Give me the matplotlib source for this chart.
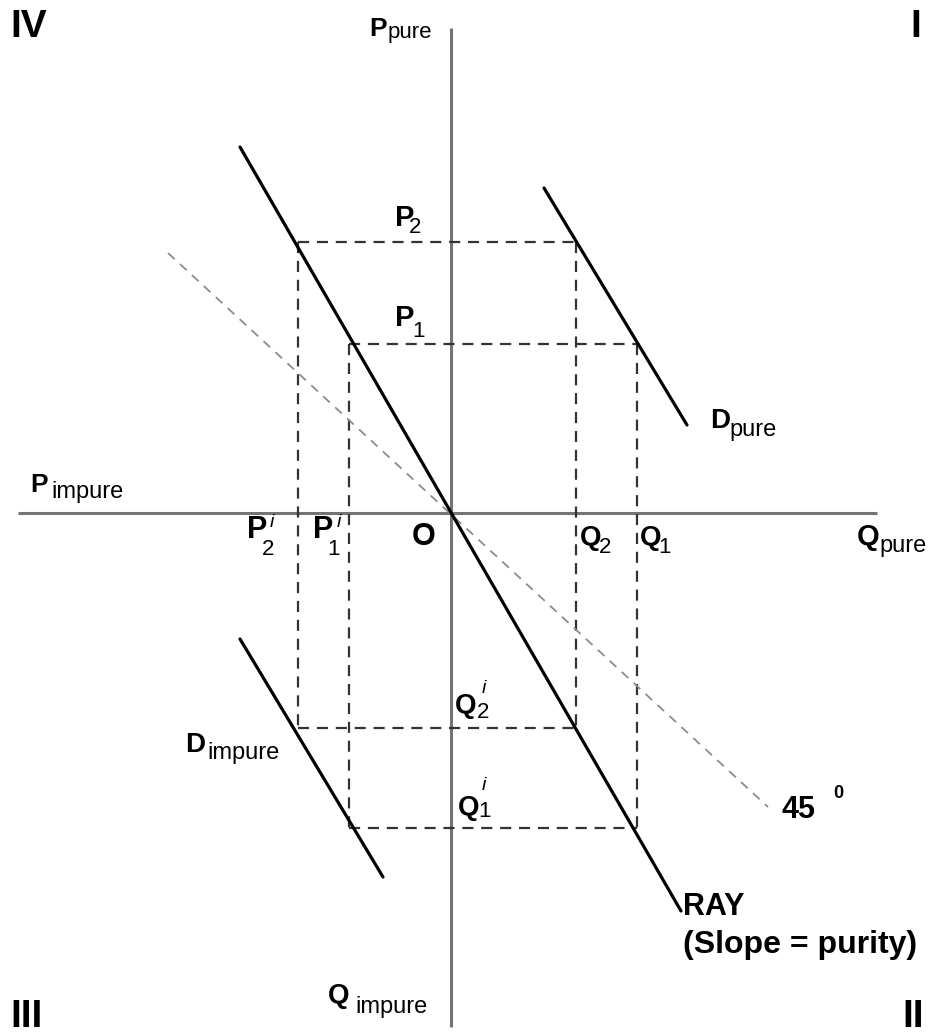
import matplotlib
matplotlib.use('Agg')
import matplotlib.pyplot as plt

plt.rcParams['font.family'] = ['Liberation Sans', 'DejaVu Sans']

# levels measured from the origin O (x = quantity pure / price impure, y = price pure / quantity impure)
p_pure = [169, 271]        # P1, P2
q_pure = [186, 125]        # Q1, Q2
p_impure = [-102, -153]    # P1^i, P2^i
q_impure = [-315, -215]    # Q1^i, Q2^i

# solid curves (end points)
ray_x = [-211, 230]
ray_y = [366, -398]
d_pure_x = [93, 236]
d_pure_y = [325, 88]
d_impure_x = [-211, -68]
d_impure_y = [-126, -364]
# 45 degree guide line
diag_x = [-283, 317]
diag_y = [260, -294]
# axis extents
h_axis = [-433, 426]
v_axis = [485, -514]

fig = plt.figure(figsize=(9.29, 10.34), dpi=100)
ax = fig.add_axes([0, 0, 1, 1])
ax.set_xlim(-451, 478)
ax.set_ylim(-521, 513)
ax.axis('off')

# axes
ax.plot(h_axis, [0, 0], color='#747474', lw=2.2, solid_capstyle='butt')
ax.plot([0, 0], v_axis, color='#747474', lw=2.2, solid_capstyle='butt')

# dashed guide lines
dash = dict(color='#333333', lw=1.6, linestyle=(0, (5, 3.5)))
for i in range(2):
    ax.plot([p_impure[i], q_pure[i]], [p_pure[i], p_pure[i]], **dash)
    ax.plot([p_impure[i], q_pure[i]], [q_impure[i], q_impure[i]], **dash)
    ax.plot([q_pure[i], q_pure[i]], [p_pure[i], q_impure[i]], **dash)
    ax.plot([p_impure[i], p_impure[i]], [p_pure[i], q_impure[i]], **dash)

ax.plot(diag_x, diag_y, color='#8c8c8c', lw=1.3, linestyle=(0, (5, 4)))

# solid lines
for xs, ys in [(ray_x, ray_y), (d_pure_x, d_pure_y), (d_impure_x, d_impure_y)]:
    ax.plot(xs, ys, color='black', lw=2.3, solid_capstyle='round')


def txt(x, y, s, size, weight='bold', style='normal'):
    ax.text(x, y, s, fontsize=size, fontweight=weight, fontstyle=style,
            ha='left', va='baseline', color='black')


# quadrant numbers
txt(-441, 476, 'IV', 28)
txt(459, 476, 'I', 28)
txt(-441, -514, 'III', 28)
txt(451, -514, 'II', 28)

# axis names
txt(-82, 477, 'P', 19)
txt(-63, 475, 'pure', 16, 'normal')
txt(-421, 21, 'P', 19)
txt(-400, 15, 'impure', 17, 'normal')
txt(406, -32, 'Q', 21)
txt(428, -39, 'pure', 17, 'normal')
txt(-123, -490, 'Q', 20)
txt(-96, -500, 'impure', 17, 'normal')
txt(259, 85, 'D', 20)
txt(278, 77, 'pure', 17, 'normal')
txt(-266, -239, 'D', 20)
txt(-244, -246, 'impure', 17, 'normal')

# price / quantity labels
txt(-56, 287, 'P', 21)
txt(-42, 280, '2', 16, 'normal')
txt(-56, 187, 'P', 21)
txt(-39, 176, '1', 16, 'normal')

txt(-204, -25, 'P', 22)
txt(-189, -42, '2', 16, 'normal')
txt(-181, -14, 'i', 14, 'normal', 'italic')
txt(-138, -25, 'P', 22)
txt(-124, -42, '1', 16, 'normal')
txt(-114, -14, 'i', 14, 'normal', 'italic')

txt(-39, -32, 'O', 22)
txt(129, -32, 'Q', 20)
txt(148, -40, '2', 16, 'normal')
txt(189, -32, 'Q', 20)
txt(207, -40, '1', 16, 'normal')

txt(4, -200, 'Q', 20)
txt(26, -205, '2', 16, 'normal')
txt(31, -180, 'i', 14, 'normal', 'italic')
txt(7, -302, 'Q', 20)
txt(27, -304, '1', 16, 'normal')
txt(31, -277, 'i', 14, 'normal', 'italic')

txt(331, -305, '45', 22)
txt(382, -285, '0', 13)
txt(232, -402, 'RAY', 22)
txt(232, -440, '(Slope = purity)', 23)

fig.savefig('out.png', dpi=100)
